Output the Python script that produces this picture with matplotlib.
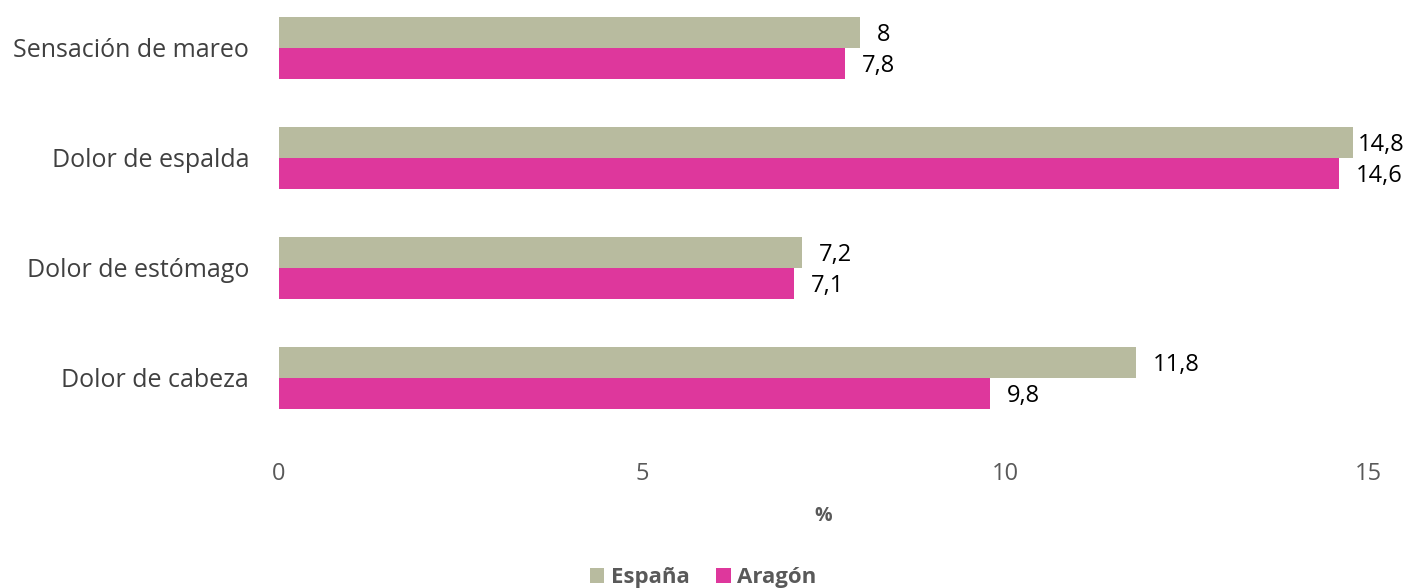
import matplotlib
matplotlib.use("Agg")
import matplotlib.pyplot as plt
import numpy as np

categories = ["Dolor de cabeza", "Dolor de estómago", "Dolor de espalda", "Sensación de mareo"]
espana = [11.8, 7.2, 14.8, 8.0]
aragon = [9.8, 7.1, 14.6, 7.8]
series_names = ["España", "Aragón"]
xticks = [0, 5, 10, 15]

plt.rcParams['font.family'] = ['Open Sans', 'DejaVu Sans']

fig = plt.figure(figsize=(14.06, 5.88), dpi=100)
ax = fig.add_axes([279/1406, (588-433)/588, (1368-279)/1406, 433/588])

y = np.arange(len(categories))
h = 0.285
c_es = "#B8BB9F"
c_ar = "#DE379C"
b1 = ax.barh(y + h/2, espana, height=h, color=c_es, label=series_names[0])
b2 = ax.barh(y - h/2, aragon, height=h, color=c_ar, label=series_names[1])

def fmt(v):
    s = f"{v:.1f}".replace(".", ",")
    if s.endswith(",0"):
        s = s[:-2]
    return s

labels = []
for bars, vals in ((b1, espana), (b2, aragon)):
    for rect, v in zip(bars, vals):
        t = ax.annotate(fmt(v), (v, rect.get_y() + rect.get_height()/2),
                        xytext=(12, -2), textcoords="offset points",
                        va="center", ha="left", fontsize=17, color="black")
        labels.append(t)

ax.set_xlim(0, 15)
ax.set_ylim(-0.5, 3.436)
ax.set_yticks(y)
ax.set_yticklabels(categories, fontsize=18, color="#404040")
ax.set_xticks(xticks)
ax.set_xticklabels([str(t) for t in xticks], fontsize=17, color="#595959")
ax.tick_params(axis="both", length=0)
ax.tick_params(axis="y", pad=21.5)
ax.tick_params(axis="x", pad=21)
for s in ax.spines.values():
    s.set_visible(False)

ax.set_xlabel("%", fontsize=14, fontweight="bold", color="#595959", labelpad=14)

leg = fig.legend(handles=[b1, b2], labels=series_names, loc="center",
                 bbox_to_anchor=(0.5, 1 - 578/588), ncol=2, frameon=False,
                 prop={"size": 16, "weight": "bold"}, handlelength=0.65,
                 handleheight=0.65, handletextpad=0.3, columnspacing=1.2)
for t in leg.get_texts():
    t.set_color("#595959")

# keep data labels inside the figure (as the original does)
fig.canvas.draw()
renderer = fig.canvas.get_renderer()
limit = 1405
for t in labels:
    bb = t.get_window_extent(renderer)
    if bb.x1 > limit:
        shift_pt = (bb.x1 - limit) * 72 / fig.dpi
        x0, y0 = t.xyann
        t.xyann = (x0 - shift_pt, y0)

fig.savefig("out.png", dpi=100)
